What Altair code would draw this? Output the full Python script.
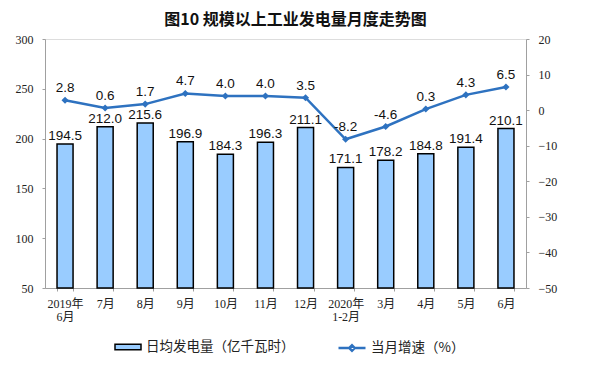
import altair as alt
import pandas as pd

categories = ["2019年|6月", "7月", "8月", "9月", "10月", "11月", "12月",
              "2020年|1-2月", "3月", "4月", "5月", "6月"]
daily_power = [194.5, 212.0, 215.6, 196.9, 184.3, 196.3, 211.1, 171.1, 178.2, 184.8, 191.4, 210.1]
growth = [2.8, 0.6, 1.7, 4.7, 4.0, 4.0, 3.5, -8.2, -4.6, 0.3, 4.3, 6.5]
left_ticks = [50, 100, 150, 200, 250, 300]
right_ticks = [-50, -40, -30, -20, -10, 0, 10, 20]
bar_name = "日均发电量（亿千瓦时）"
line_name = "当月增速（%）"
title = "图10  规模以上工业发电量月度走势图"

df = pd.DataFrame({
    "cat": categories,
    "power": daily_power,
    "growth": growth,
    "sb": [bar_name] * len(categories),
    "sl": [line_name] * len(categories),
})
df["power_lbl"] = [f"{v:.1f}" for v in daily_power]
df["growth_lbl"] = [f"{v:.1f}" for v in growth]

BLUE = "#2E72C0"
BAR = "#99CCFF"
SERIF = "Liberation Serif, Noto Sans CJK SC"
SANS = "Liberation Sans, Noto Sans CJK SC"
CJK = "Noto Sans CJK SC"

x_axis = alt.Axis(labelExpr="split(datum.label, '|')", labelAngle=0,
                  labelFont=SERIF, labelFontSize=12, labelColor="#222",
                  labelPadding=7, labelLineHeight=13,
                  domainColor="#A0A0A0", tickColor="#A0A0A0", tickSize=3,
                  tickBand="extent", grid=False)
x_scale = alt.Scale(paddingInner=0.6, paddingOuter=0.3)


def X():
    return alt.X("cat:N", sort=categories, title=None, scale=x_scale, axis=x_axis)


yl_scale = alt.Scale(domain=[50, 300], zero=False, nice=False)
yr_scale = alt.Scale(domain=[-50, 20], zero=False, nice=False)
yl_axis = alt.Axis(values=left_ticks, labelFont=SERIF, labelFontSize=12,
                   labelColor="#222", labelPadding=9,
                   domainColor="#A0A0A0", tickColor="#A0A0A0", tickSize=3, grid=False)
yr_axis = alt.Axis(orient="right", values=right_ticks, labelFont=SERIF,
                   labelFontSize=12, labelColor="#222", labelPadding=9,
                   domainColor="#A0A0A0", tickColor="#A0A0A0", tickSize=3, grid=False)


def YL():
    return alt.Y("power:Q", scale=yl_scale, title=None, axis=yl_axis)


def YR():
    return alt.Y("growth:Q", scale=yr_scale, title=None, axis=yr_axis)


bars = alt.Chart(df).mark_bar(stroke="black", strokeWidth=1.5).encode(
    x=X(),
    y=YL(),
    y2=alt.datum(50),
    fill=alt.Fill("sb:N", scale=alt.Scale(domain=[bar_name], range=[BAR]),
                  legend=alt.Legend(title=None, orient="none", legendX=69, legendY=294,
                                    symbolType="M-1,-0.22H1V0.22H-1Z", symbolSize=676,
                                    symbolStrokeColor="black", symbolStrokeWidth=1.5,
                                    labelFont=CJK, labelFontSize=13.5, labelColor="#222",
                                    labelOffset=4, labelLimit=300)),
)

bar_text = alt.Chart(df).mark_text(baseline="bottom", dy=-1, font=SANS, fontSize=13.5,
                                   color="#111").encode(
    x=X(),
    y=YL(),
    text="power_lbl:N",
)

line = alt.Chart(df).mark_line(strokeWidth=2.5).encode(
    x=X(),
    y=YR(),
    stroke=alt.Stroke("sl:N", scale=alt.Scale(domain=[line_name], range=[BLUE]),
                      legend=alt.Legend(title=None, orient="none", legendX=292, legendY=294,
                                        symbolType="M-1,0H-0.2L0,-0.2L0.2,0L0,0.2L-0.2,0ZM0.2,0H1",
                                        symbolSize=729, symbolStrokeWidth=2.5,
                                        labelFont=CJK, labelFontSize=13.5, labelColor="#222",
                                        labelOffset=4, labelLimit=300)),
)

pts = alt.Chart(df).mark_point(shape="diamond", filled=True, size=50, color=BLUE,
                               opacity=1).encode(
    x=X(),
    y=YR(),
)

line_text = alt.Chart(df).mark_text(baseline="bottom", dy=-5, font=SANS, fontSize=13.5,
                                    color="#111").encode(
    x=X(),
    y=YR(),
    text="growth_lbl:N",
)

chart = alt.layer(
    alt.layer(bars, bar_text),
    alt.layer(line, pts, line_text),
).resolve_scale(y="independent", fill="independent", stroke="independent").properties(
    width=481, height=249,
    autosize=alt.AutoSizeParams(type="none"),
    padding={"left": 37, "top": 31, "right": 58, "bottom": 70},
    title=alt.TitleParams(title, font=CJK, fontSize=16, fontWeight="bold", color="#111",
                          anchor="middle", offset=5, dx=10),
).configure_view(stroke=None).configure(background="white")

chart.save("out.html", embed_options={"renderer": "svg", "actions": False})
